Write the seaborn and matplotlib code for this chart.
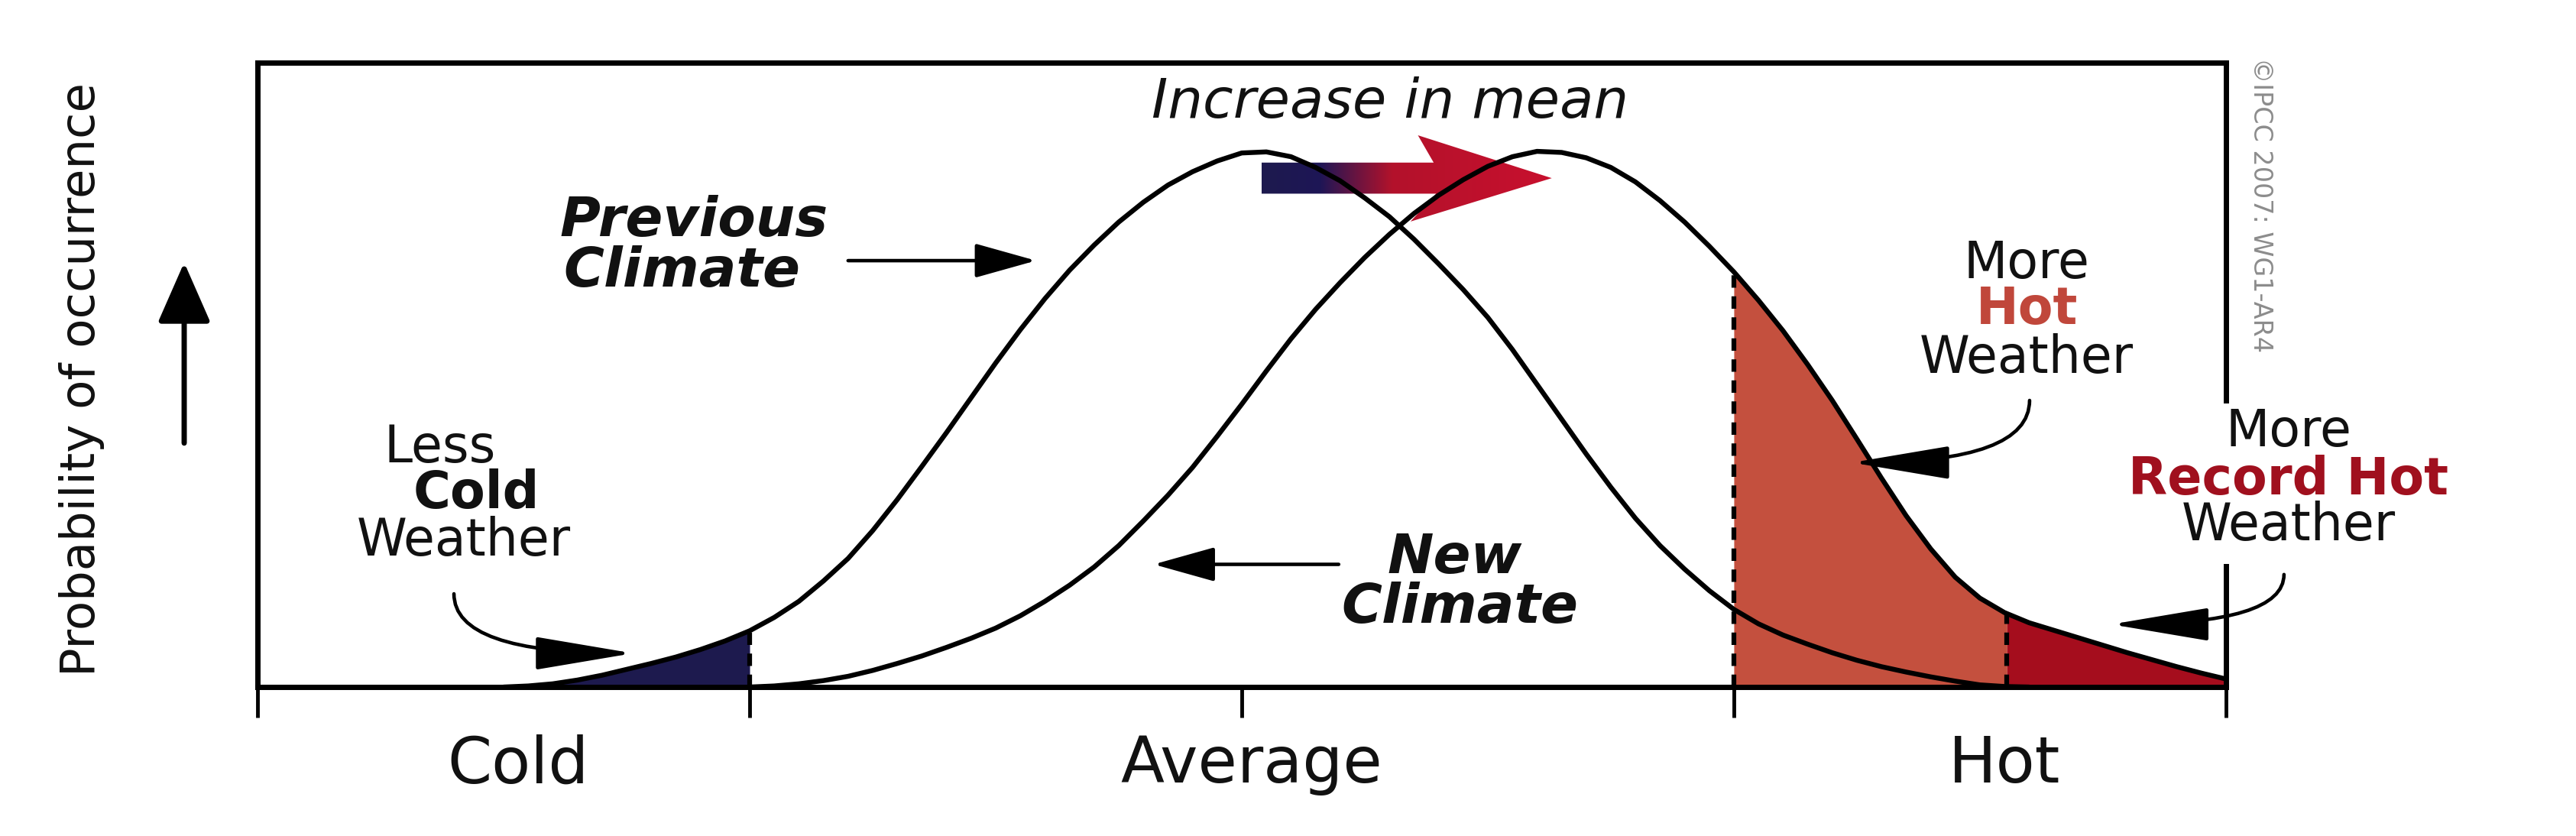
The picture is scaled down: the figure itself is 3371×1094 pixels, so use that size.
import numpy as np
import matplotlib
matplotlib.use("Agg")
import matplotlib.pyplot as plt
from matplotlib.colors import LinearSegmentedColormap
from matplotlib.patches import Polygon, Rectangle
import seaborn as sns

# curves: x runs 0 (left edge) .. 4 (right edge), y = 1 at the peak
prev_x = [0.50, 0.55, 0.60, 0.65, 0.70, 0.75, 0.80, 0.85, 0.90, 0.95, 1.00, 1.05, 1.10,
          1.15, 1.20, 1.25, 1.30, 1.35, 1.40, 1.45, 1.50, 1.55, 1.60, 1.65, 1.70, 1.75,
          1.80, 1.85, 1.90, 1.95, 2.00, 2.05, 2.10, 2.15, 2.20, 2.25, 2.30, 2.35, 2.40,
          2.45, 2.50, 2.55, 2.60, 2.65, 2.70, 2.75, 2.80, 2.85, 2.90, 2.95, 3.00, 3.05,
          3.10, 3.15, 3.20, 3.25, 3.30, 3.35, 3.40, 3.45, 3.50, 3.55, 3.60]
prev_y = [0.0, 0.002, 0.006, 0.013, 0.022, 0.033, 0.044, 0.056, 0.070, 0.086, 0.105, 0.130,
          0.160, 0.198, 0.240, 0.292, 0.350, 0.412, 0.475, 0.540, 0.605, 0.667, 0.725,
          0.778, 0.825, 0.868, 0.905, 0.937, 0.962, 0.982, 0.997, 0.999, 0.990, 0.970,
          0.945, 0.913, 0.878, 0.836, 0.790, 0.742, 0.690, 0.630, 0.565, 0.500, 0.435,
          0.373, 0.315, 0.264, 0.220, 0.180, 0.145, 0.118, 0.097, 0.080, 0.064, 0.050,
          0.038, 0.028, 0.019, 0.011, 0.004, 0.001, 0.0]

new_x = [1.00, 1.05, 1.10, 1.15, 1.20, 1.25, 1.30, 1.35, 1.40, 1.45, 1.50, 1.55, 1.60,
         1.65, 1.70, 1.75, 1.80, 1.85, 1.90, 1.95, 2.00, 2.05, 2.10, 2.15, 2.20, 2.25,
         2.30, 2.35, 2.40, 2.45, 2.50, 2.55, 2.60, 2.65, 2.70, 2.75, 2.80, 2.85, 2.90,
         2.95, 3.00, 3.05, 3.10, 3.15, 3.20, 3.25, 3.30, 3.35, 3.40, 3.45, 3.50, 3.55,
         3.60, 3.65, 3.70, 3.75, 3.80, 3.85, 3.90, 3.95, 4.00]
new_y = [0.0, 0.002, 0.006, 0.012, 0.020, 0.031, 0.044, 0.058, 0.074, 0.091, 0.110, 0.133,
         0.160, 0.190, 0.224, 0.264, 0.310, 0.358, 0.410, 0.468, 0.528, 0.590, 0.650,
         0.705, 0.755, 0.802, 0.845, 0.884, 0.918, 0.947, 0.972, 0.990, 1.000, 0.998,
         0.988, 0.970, 0.943, 0.908, 0.868, 0.823, 0.775, 0.722, 0.665, 0.602, 0.535,
         0.463, 0.390, 0.320, 0.258, 0.205, 0.166, 0.139, 0.120, 0.106, 0.092, 0.078,
         0.064, 0.051, 0.038, 0.026, 0.015]

tick_pos = [0, 1, 2, 3, 4]
label_pos = [0.53, 2.02, 3.55]
label_text = ["Cold", "Average", "Hot"]

cold_limit = 1.0
hot_limit = 3.0
record_limit = 3.555

NAVY = "#1d1a4e"
HOT = "#c4503e"
RECORD = "#a50d1d"
HOT_TXT = "#c0473b"
RECORD_TXT = "#a0101e"

sns.set_theme(style="white")
plt.rcParams["font.family"] = ["DejaVu Sans"]

fig = plt.figure(figsize=(33.71, 10.94), dpi=100)
fig.patch.set_facecolor("white")
ax = fig.add_axes([0.1, 0.1782, 0.7641, 0.7468])

px, py = np.array(prev_x), np.array(prev_y)
nx, ny = np.array(new_x), np.array(new_y)

# shaded tails
ax.fill_between(px, py, where=px <= cold_limit, color=NAVY, lw=0, zorder=1)
rec_y = np.interp(record_limit, nx, ny)
m = (nx >= hot_limit) & (nx <= record_limit)
ax.fill_between(np.r_[nx[m], record_limit], np.r_[ny[m], rec_y], color=HOT, lw=0, zorder=1)
m = nx > record_limit
ax.fill_between(np.r_[record_limit, nx[m]], np.r_[rec_y, ny[m]], color=RECORD, lw=0, zorder=1)

dash = (0, (2.6, 1.8))
ax.vlines(cold_limit, 0, np.interp(cold_limit, px, py), color="black", lw=4.5, linestyles=dash, zorder=2)
ax.vlines(hot_limit, 0, np.interp(hot_limit, nx, ny), color="black", lw=4.5, linestyles=dash, zorder=2)
ax.vlines(record_limit, 0, rec_y, color="black", lw=4.5, linestyles=dash, zorder=2)

# "increase in mean" arrow from old peak to new peak, navy -> red
x0 = px[np.argmax(py)] - 0.01
x1 = nx[np.argmax(ny)] + 0.03
arrow = Polygon([(x0, 0.921), (x0, 0.979), (x1 - 0.24, 0.979), (x1 - 0.272, 1.03),
                 (x1, 0.95), (x1 - 0.287, 0.869), (x1 - 0.235, 0.921)],
                closed=True, facecolor="none", edgecolor="none")
ax.add_patch(arrow)
cmap = LinearSegmentedColormap.from_list(
    "shift", [(0, NAVY), (0.2, "#1e1656"), (0.45, "#b3122b"), (1.0, "#c8102e")])
grad = ax.imshow(np.linspace(0, 1, 256).reshape(1, -1), cmap=cmap, aspect="auto",
                 extent=[x0, x1, 0.86, 1.04], zorder=2, interpolation="bilinear")
grad.set_clip_path(arrow)

sns.lineplot(x=prev_x, y=prev_y, ax=ax, color="black", lw=4.6, zorder=4)
sns.lineplot(x=new_x, y=new_y, ax=ax, color="black", lw=4.6, zorder=4)

ax.set_xlim(0, 4)
ax.set_ylim(0, 1.1655)
ax.set_yticks([])
ax.set_xticks(tick_pos)
ax.set_xticklabels([])
ax.set_xticks(label_pos, minor=True)
ax.set_xticklabels(label_text, minor=True, fontsize=60)
ax.xaxis.remove_overlapping_locs = False
ax.tick_params(axis="x", which="major", bottom=True, direction="out", length=29,
               width=3.5, color="black")
ax.tick_params(axis="x", which="minor", bottom=True, length=0, pad=44, labelcolor="#111111")
ax.set_xlabel("")
for s in ax.spines.values():
    s.set_visible(True)
    s.set_color("black")
    s.set_linewidth(5)

ax.set_ylabel("Probability of occurrence", fontsize=45, color="#111111")
ax.yaxis.set_label_coords(-0.0893, 0.493)
ax.yaxis.label.set_va("center")

# gap in the right frame behind the record-hot label
ax.add_patch(Rectangle((3.97, 0.23), 0.06, 0.30, facecolor="white", edgecolor="none",
                       zorder=5, clip_on=False))

txt = dict(ha="center", va="center", zorder=6, color="#111111")
ax.text(2.301, 1.090, "Increase in mean", fontsize=52, style="italic", **txt)
ax.text(0.887, 0.869, "Previous", fontsize=52, style="italic", weight="bold", **txt)
ax.text(0.863, 0.776, "Climate", fontsize=52, style="italic", weight="bold", **txt)
ax.text(2.432, 0.240, "New", fontsize=52, style="italic", weight="bold", **txt)
ax.text(2.443, 0.148, "Climate", fontsize=52, style="italic", weight="bold", **txt)

ax.text(0.371, 0.447, "Less", fontsize=48, **txt)
ax.text(0.445, 0.361, "Cold", fontsize=48, weight="bold", **txt)
ax.text(0.419, 0.272, "Weather", fontsize=48, **txt)

ax.text(3.595, 0.790, "More", fontsize=48, **txt)
ax.text(3.595, 0.705, "Hot", fontsize=48, weight="bold", ha="center", va="center", zorder=6, color=HOT_TXT)
ax.text(3.595, 0.613, "Weather", fontsize=48, **txt)

ax.text(4.127, 0.476, "More", fontsize=48, **txt)
ax.text(4.127, 0.387, "Record Hot", fontsize=48, weight="bold", ha="center", va="center", zorder=6, color=RECORD_TXT)
ax.text(4.127, 0.301, "Weather", fontsize=48, **txt)

straight = dict(arrowstyle="-|>,head_length=1.0,head_width=0.28", color="black", lw=3.3,
                mutation_scale=50, shrinkA=0, shrinkB=0)
ax.annotate("", xy=(1.582, 0.796), xytext=(1.20, 0.796), arrowprops=straight, zorder=6)
ax.annotate("", xy=(1.821, 0.229), xytext=(2.197, 0.229), arrowprops=straight, zorder=6)

# bent arrows: start straight down, end horizontal
bent = dict(arrowstyle="-|>,head_length=1.6,head_width=0.27", color="black", lw=3.3,
            mutation_scale=50, shrinkA=0, shrinkB=0,
            connectionstyle="angle3,angleA=90,angleB=0")
ax.annotate("", xy=(0.763, 0.063), xytext=(0.399, 0.174), arrowprops=bent, zorder=6)
ax.annotate("", xy=(3.240, 0.419), xytext=(3.601, 0.535), arrowprops=bent, zorder=6)
ax.annotate("", xy=(3.767, 0.117), xytext=(4.118, 0.210), arrowprops=bent, zorder=6,
            annotation_clip=False)

# up arrow next to the axis label
ax.annotate("", xy=(0.0715, 0.686), xytext=(0.0715, 0.470), xycoords="figure fraction",
            textcoords="figure fraction",
            arrowprops=dict(arrowstyle="-|>,head_length=0.98,head_width=0.43", color="black",
                            lw=5, mutation_scale=50, shrinkA=0, shrinkB=0))

fig.text(0.8775, 0.755, "©IPCC 2007: WG1-AR4", rotation=-90, ha="center", va="center",
         fontsize=24, color="#8c8c8c")

fig.savefig("out.png", dpi=100, facecolor="white")
